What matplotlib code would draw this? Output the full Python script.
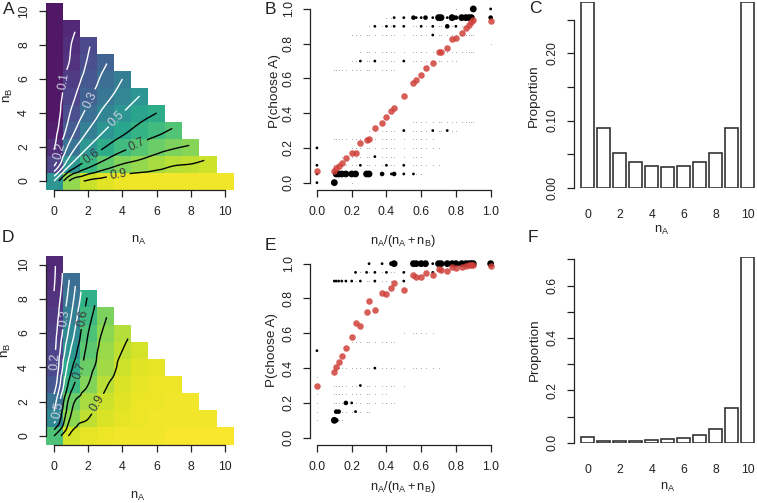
import numpy as np
import matplotlib
matplotlib.use("Agg")
import matplotlib.pyplot as plt
import matplotlib.tri as mtri

plt.rcParams['font.family'] = ['Liberation Sans', 'DejaVu Sans']
plt.rcParams['mathtext.fontset'] = 'custom'
plt.rcParams['mathtext.rm'] = 'Liberation Sans'
plt.rcParams['mathtext.it'] = 'Liberation Sans'

W, H = 757, 503

# --- heatmaps: P(choose A) per cell, rows are nB = 0..10, columns nA = 0..(10-nB)
A_GRID = [
    [0.50, 0.83, 0.915, 0.95, 0.97, 0.975, 0.975, 0.98, 0.98, 0.98, 0.98],
    [0.17, 0.50, 0.65, 0.74, 0.80, 0.83, 0.86, 0.89, 0.90, 0.92],
    [0.09, 0.35, 0.50, 0.60, 0.67, 0.72, 0.76, 0.79, 0.81],
    [0.05, 0.26, 0.40, 0.50, 0.57, 0.63, 0.67, 0.71],
    [0.03, 0.21, 0.33, 0.43, 0.50, 0.56, 0.60],
    [0.03, 0.17, 0.28, 0.37, 0.44, 0.50],
    [0.03, 0.14, 0.24, 0.33, 0.40],
    [0.03, 0.11, 0.21, 0.29],
    [0.03, 0.10, 0.19],
    [0.03, 0.08],
    [0.03],
]
D_GRID = [
    [0.70, 0.93, 0.96, 0.97, 0.98, 0.98, 0.98, 0.99, 0.99, 0.99, 0.99],
    [0.45, 0.82, 0.90, 0.94, 0.96, 0.97, 0.98, 0.98, 0.98, 0.98],
    [0.35, 0.76, 0.86, 0.92, 0.95, 0.97, 0.97, 0.98, 0.98],
    [0.24, 0.66, 0.80, 0.89, 0.94, 0.96, 0.97, 0.97],
    [0.19, 0.58, 0.76, 0.85, 0.92, 0.95, 0.96],
    [0.17, 0.51, 0.73, 0.84, 0.90, 0.93],
    [0.15, 0.45, 0.70, 0.82, 0.88],
    [0.13, 0.40, 0.66, 0.79],
    [0.11, 0.36, 0.62],
    [0.09, 0.33],
    [0.08],
]
# contour label spots (nA, nB)
A_LAB_WHITE = [(0.84, 5.84), (0.19, 1.82), (2.36, 4.66), (3.57, 3.78)]
A_LAB_BLACK = [(2.1, 1.57), (4.74, 2.31), (3.76, 0.31)]
D_LAB_WHITE = [(0.06, 4.35), (0.64, 6.88), (0.16, 1.52)]
D_LAB_BLACK = [(1.81, 6.88), (1.52, 3.76), (2.5, 1.91)]

# --- distinct ratios nA/(nA+nB)
RATIOS = [0, 1/10, 1/9, 1/8, 1/7, 1/6, 1/5, 2/9, 1/4, 2/7, 3/10, 1/3, 3/8, 2/5, 3/7, 4/9,
          1/2, 5/9, 4/7, 3/5, 5/8, 2/3, 7/10, 5/7, 3/4, 7/9, 4/5, 5/6, 6/7, 7/8, 8/9, 9/10, 1]
B_MEAN = [0.069, 0.067, 0.083, 0.098, 0.115, 0.14, 0.169, 0.173, 0.227, 0.246, 0.252, 0.317,
          0.342, 0.38, 0.413, 0.428, 0.499, 0.572, 0.591, 0.62, 0.659, 0.687, 0.751, 0.754,
          0.777, 0.827, 0.835, 0.86, 0.889, 0.908, 0.923, 0.937, 0.933]
E_MEAN = [0.299, 0.375, 0.404, 0.433, 0.469, 0.513, 0.58, 0.657, 0.644, 0.72, 0.785, 0.734,
          0.833, 0.824, 0.858, 0.887, 0.849, 0.935, 0.925, 0.925, 0.948, 0.935, 0.969, 0.964,
          0.96, 0.979, 0.977, 0.983, 0.989, 0.992, 0.992, 0.994, 0.989]

# individual points: (ratio, P, size class 1 small / 2 medium / 3 big)
B_DOTS = [
    (0.9, 1.0, 3), (1.0, 1.0, 1),
    (4/9, 0.95, 1), (0.5, 0.95, 1), (5/9, 0.95, 2), (4/7, 0.95, 1), (0.6, 0.95, 1),
    (5/8, 0.95, 2), (2/3, 0.95, 1), (0.7, 0.95, 3), (5/7, 0.95, 3), (0.75, 0.95, 1),
    (7/9, 0.95, 3), (0.8, 0.95, 2), (5/6, 0.95, 3), (6/7, 0.95, 3), (7/8, 0.95, 3),
    (8/9, 0.95, 3), (1.0, 0.95, 2),
    (1/3, 0.9, 1), (0.4, 0.9, 1), (4/9, 0.9, 1), (0.5, 0.9, 1), (0.6, 0.9, 1),
    (2/3, 0.9, 1), (0.75, 0.9, 2), (0.8, 0.9, 1),
    (2/3, 0.85, 1),
    (0.25, 0.7, 1), (1/3, 0.7, 1), (0.5, 0.7, 1),
    (0.5, 0.3, 1), (2/3, 0.3, 1), (0.75, 0.3, 1),
    (0.0, 0.2, 1),
    (1/3, 0.15, 1),
    (0.0, 0.1, 1), (0.25, 0.1, 1), (0.4, 0.1, 1), (0.5, 0.1, 1),
    (0.0, 0.05, 1), (1/9, 0.05, 3), (1/8, 0.05, 3), (1/7, 0.05, 3), (1/6, 0.05, 3),
    (0.2, 0.05, 3), (2/9, 0.05, 3), (2/7, 0.05, 3), (0.3, 0.05, 3), (3/8, 0.05, 2),
    (3/7, 0.05, 1), (4/9, 0.05, 2), (0.5, 0.05, 1), (5/9, 0.05, 1),
    (0.0, 0.0, 1), (0.1, 0.0, 3),
]
E_DOTS = [
    (0.3, 1.0, 1), (3/8, 1.0, 1), (3/7, 1.0, 2), (4/9, 1.0, 3), (5/9, 1.0, 3),
    (4/7, 1.0, 3), (0.6, 1.0, 3), (5/8, 1.0, 3), (2/3, 1.0, 1), (0.7, 1.0, 3),
    (5/7, 1.0, 3), (0.75, 1.0, 3), (7/9, 1.0, 3), (0.8, 1.0, 3), (5/6, 1.0, 3),
    (6/7, 1.0, 3), (7/8, 1.0, 3), (8/9, 1.0, 3), (0.9, 1.0, 3), (1.0, 1.0, 3),
    (2/9, 0.95, 1), (2/7, 0.95, 1), (1/3, 0.95, 1), (0.4, 0.95, 1), (0.5, 0.95, 1),
    (2/3, 0.95, 1),
    (0.1, 0.9, 1), (1/9, 0.9, 1), (1/8, 0.9, 1), (1/7, 0.9, 1), (1/6, 0.9, 1),
    (0.2, 0.9, 1), (0.25, 0.9, 1), (1/3, 0.9, 1), (0.5, 0.9, 1),
    (0.0, 0.5, 1),
    (1/3, 0.4, 1),
    (0.25, 0.3, 1),
    (1/6, 0.2, 2), (0.2, 0.2, 1),
    (1/9, 0.15, 2), (1/8, 0.15, 2), (2/9, 0.15, 1),
    (0.1, 0.1, 3), (1/9, 0.1, 2),
]
# faint single observations: (P, ratio from, ratio to)
B_FAINT = [(1.0, 0.8, 0.8), (0.95, 0.38, 0.5), (0.9, 0.29, 0.86), (0.85, 0.2, 0.9),
           (0.8, 1.0, 1.0), (0.75, 0.25, 0.9), (0.7, 0.2, 0.8), (0.65, 0.08, 0.45),
           (0.35, 0.55, 0.9), (0.3, 0.3, 0.8), (0.25, 0.1, 0.67), (0.2, 0.2, 0.7),
           (0.15, 0.14, 0.6), (0.1, 0.1, 0.7), (0.05, 0.5, 0.6), (0.0, 0.2, 0.2)]
E_FAINT = [(0.95, 0.22, 0.45), (0.9, 0.2, 0.45), (0.6, 0.5, 0.67), (0.55, 0.2, 0.45),
           (0.4, 0.1, 0.7), (0.35, 0.0, 0.0), (0.3, 0.0, 0.55), (0.25, 0.0, 0.4),
           (0.2, 0.0, 0.45), (0.15, 0.0, 0.3), (0.1, 0.0, 0.15)]

NA = list(range(11))
C_PROP = [0.277, 0.0884, 0.0512, 0.0378, 0.0323, 0.0303, 0.0323, 0.0378, 0.0512, 0.0884, 0.277]
F_PROP = [0.023, 0.0076, 0.005, 0.006, 0.009, 0.0127, 0.0165, 0.028, 0.052, 0.131, 0.71]

AX_COL = '#222222'
FS = 8.8       # tick labels
FS_LAB = 9.3   # horizontal axis titles
FS_VLAB = 9.7  # vertical axis titles


def add_ax(fig, l, t, r, b):
    return fig.add_axes([l / W, 1 - b / H, (r - l) / W, (b - t) / H])


def r_style(ax, xb=None, yb=None):
    for s in ['top', 'right']:
        ax.spines[s].set_visible(False)
    for s in ['left', 'bottom']:
        ax.spines[s].set_color(AX_COL)
        ax.spines[s].set_linewidth(0.9)
    if xb:
        ax.spines['bottom'].set_bounds(*xb)
    if yb:
        ax.spines['left'].set_bounds(*yb)
    ax.tick_params(direction='out', length=5, width=0.9, color=AX_COL,
                   labelsize=FS, labelcolor='#222222')
    ax.tick_params(axis='x', pad=7)
    ax.tick_params(axis='y', pad=6)
    for lab in ax.get_yticklabels():
        lab.set_rotation(90)
        lab.set_va('center')


def txt(fig, x, y, s, rot=0, size=FS_LAB):
    fig.text(x / W, 1 - y / H, s, rotation=rot, ha='center', va='center',
             fontsize=size, color='#222222')


def heat_panel(ax, grid, lab_white, lab_black):
    Z = np.full((11, 11), np.nan)
    xs, ys, zs = [], [], []
    for nb, row in enumerate(grid):
        for na, v in enumerate(row):
            Z[nb, na] = v
            xs.append(na)
            ys.append(nb)
            zs.append(v)
    edges = np.arange(-0.5, 11.0, 1.0)
    ax.pcolormesh(edges, edges, np.ma.masked_invalid(Z), cmap='viridis',
                  vmin=0, vmax=1, alpha=0.95, linewidth=0)
    idx = {(x, y): k for k, (x, y) in enumerate(zip(xs, ys))}
    tris = []
    for (x, y), k in idx.items():
        if (x + 1, y) in idx and (x, y + 1) in idx:
            tris.append([k, idx[(x + 1, y)], idx[(x, y + 1)]])
            if (x + 1, y + 1) in idx:
                tris.append([idx[(x + 1, y)], idx[(x + 1, y + 1)], idx[(x, y + 1)]])
    tri = mtri.Triangulation(np.array(xs, float), np.array(ys, float), tris)
    zs = np.array(zs)
    interp = mtri.CubicTriInterpolator(tri, zs, kind='geom')
    tri_f, z_f = mtri.UniformTriRefiner(tri).refine_field(zs, triinterpolator=interp, subdiv=3)
    cw = ax.tricontour(tri_f, z_f, levels=[0.1, 0.2, 0.3, 0.4, 0.5],
                       colors='white', linewidths=1.0)
    cb = ax.tricontour(tri_f, z_f, levels=[0.6, 0.7, 0.8, 0.9],
                       colors='black', linewidths=1.0)
    tw = ax.clabel(cw, manual=lab_white, fontsize=8.8, inline=True, inline_spacing=3, fmt='%.1f')
    tb = ax.clabel(cb, manual=lab_black, fontsize=8.8, inline=True, inline_spacing=3, fmt='%.1f')
    for t in tw:
        t.set_color('#d0d0e0')
    for t in tb:
        t.set_color('#3a3a3a')
    ax.set_xlim(-0.5, 10.5)
    ax.set_ylim(-0.5, 10.5)
    ax.set_xticks(range(0, 11, 2))
    ax.set_yticks(range(0, 11, 2))
    r_style(ax, (0, 10), (0, 10))


def scatter_panel(ax, dots, faint, means):
    for y, lo, hi in faint:
        fx = [r for r in RATIOS if lo - 1e-6 <= r <= hi + 1e-6]
        ax.scatter(fx, [y] * len(fx), s=0.5, color='#a8a8a8', linewidths=0, zorder=2)
    sizes = {1: 4, 2: 11, 3: 24}
    ax.scatter([d[0] for d in dots], [d[1] for d in dots],
               s=[sizes[d[2]] for d in dots], color='black', linewidths=0, zorder=3)
    ax.scatter(RATIOS, means, s=22, color='#d0403a', alpha=0.85, linewidths=0, zorder=4)
    ax.set_xlim(-0.04, 1.04)
    ax.set_ylim(-0.04, 1.04)
    ax.set_xticks(np.arange(0, 1.01, 0.2))
    ax.set_yticks(np.arange(0, 1.01, 0.2))
    ax.set_xticklabels(['0.0', '0.2', '0.4', '0.6', '0.8', '1.0'])
    ax.set_yticklabels(['0.0', '0.2', '0.4', '0.6', '0.8', '1.0'])
    r_style(ax, (0, 1), (0, 1))


def bar_panel(ax, props, ymax, yt, ylabs):
    ax.bar(NA, props, width=1 / 1.2, color='white', edgecolor='#333333', linewidth=1.2)
    ax.set_xlim(-0.85, 10.85)
    ax.set_ylim(0, ymax)
    ax.set_xticks(range(0, 11, 2))
    ax.set_yticks(yt)
    ax.set_yticklabels(ylabs)
    r_style(ax, None, (yt[0], yt[-1]))
    ax.spines['bottom'].set_visible(False)
    ax.tick_params(axis='x', length=0, pad=15)
    for lab in ax.get_yticklabels():
        lab.set_rotation(90)
        lab.set_va('center')


fig = plt.figure(figsize=(W / 100, H / 100), dpi=100)

axA = add_ax(fig, 45.5, 2.5, 233.6, 189.5)
heat_panel(axA, A_GRID, A_LAB_WHITE, A_LAB_BLACK)
axD = add_ax(fig, 45.5, 256, 233.6, 444.5)
heat_panel(axD, D_GRID, D_LAB_WHITE, D_LAB_BLACK)

axB = add_ax(fig, 310, 2, 497.6, 189.6)
scatter_panel(axB, B_DOTS, B_FAINT, B_MEAN)
axE = add_ax(fig, 310, 256.7, 497.6, 444.7)
scatter_panel(axE, E_DOTS, E_FAINT, E_MEAN)

axC = add_ax(fig, 574, 1.7, 761.4, 187.7)
bar_panel(axC, C_PROP, 0.277, [0, 0.05, 0.10, 0.15, 0.20, 0.25],
          ['0.00', '', '0.10', '', '0.20', ''])
axF = add_ax(fig, 574, 256.7, 761.4, 442.7)
bar_panel(axF, F_PROP, 0.71, [0, 0.1, 0.2, 0.3, 0.4, 0.5, 0.6, 0.7],
          ['0.0', '', '0.2', '', '0.4', '', '0.6', ''])

nA = r'$\mathregular{n_A}$'
nB = r'$\mathregular{n_B}$'
ratio = r'$\mathregular{n_A/(n_A+n_B)}$'
txt(fig, 139, 240, nA)
txt(fig, 8, 95, nB, rot=90, size=FS_VLAB)
txt(fig, 138, 496.7, nA)
txt(fig, 6, 350, nB, rot=90, size=FS_VLAB)
txt(fig, 403, 240.7, ratio)
txt(fig, 275, 91, 'P(choose A)', rot=90, size=FS_VLAB)
txt(fig, 403, 487.3, ratio)
txt(fig, 272, 350, 'P(choose A)', rot=90, size=FS_VLAB)
txt(fig, 662, 230, nA)
txt(fig, 534, 96, 'Proportion', rot=90, size=FS_VLAB)
txt(fig, 668, 487.3, nA)
txt(fig, 535, 350, 'Proportion', rot=90, size=FS_VLAB)

for s, x, y in [('A', 8.3, 10), ('B', 270.7, 10), ('C', 535, 8.3),
                ('D', 8.3, 238), ('E', 270.7, 245), ('F', 533, 238)]:
    txt(fig, x, y, s, size=12.5)

fig.savefig('out.png', dpi=100)
